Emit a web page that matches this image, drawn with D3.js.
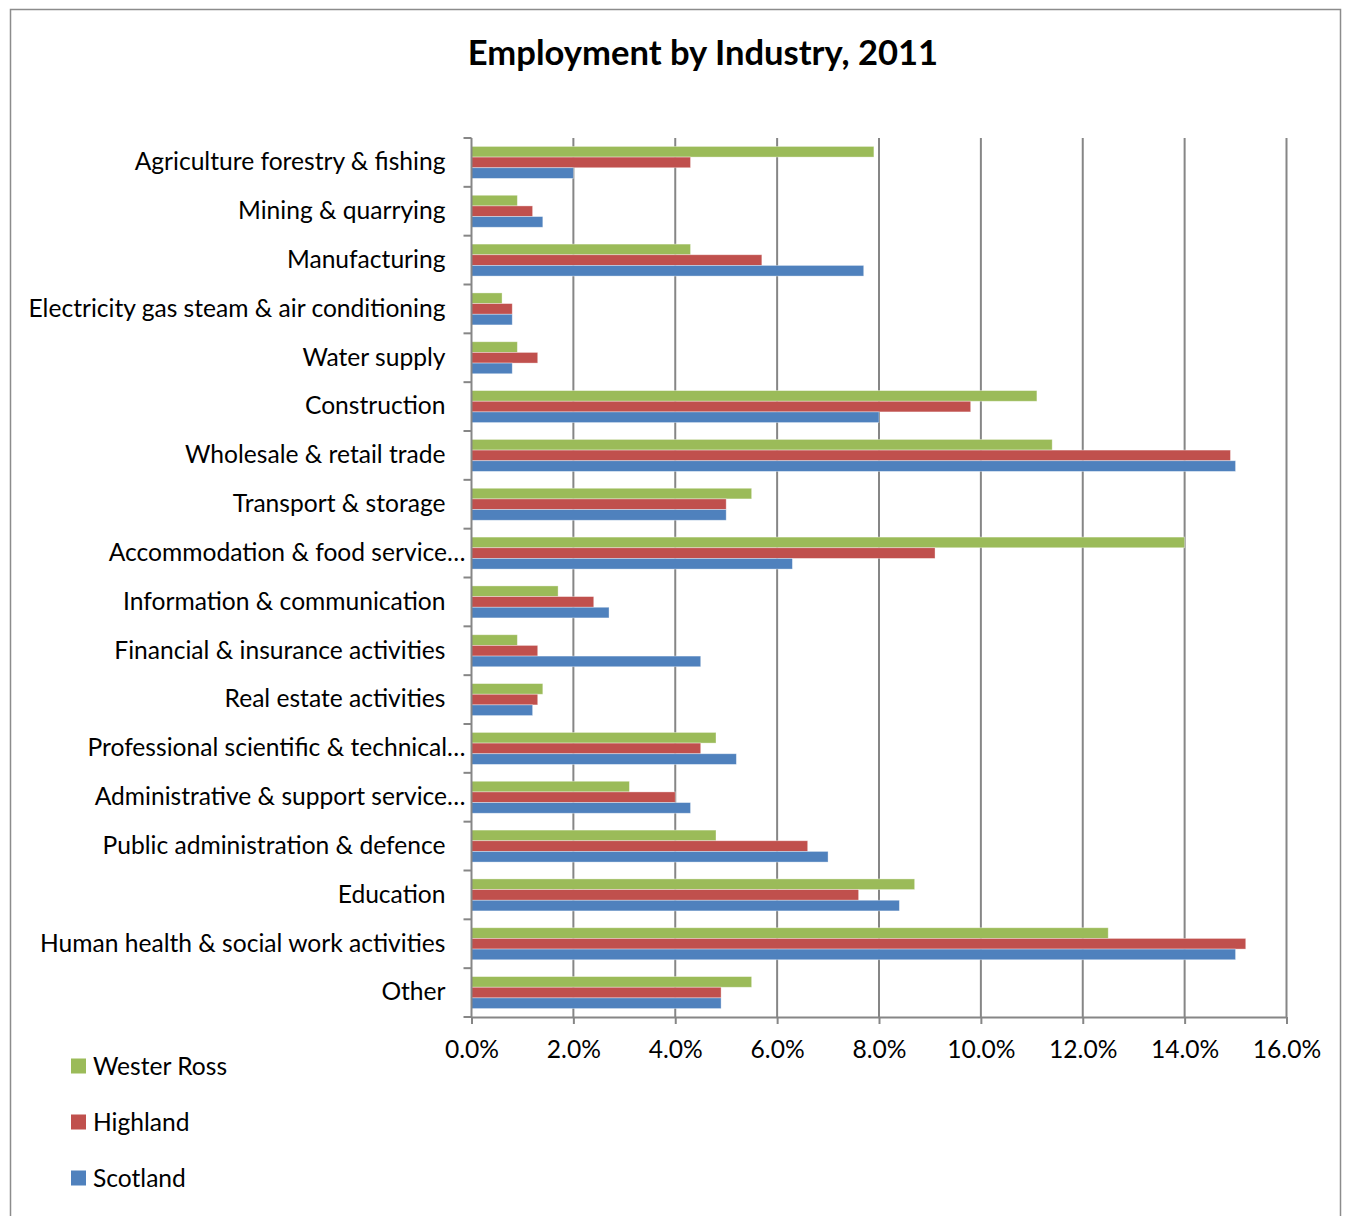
<!DOCTYPE html>
<html>
<head>
<meta charset="utf-8">
<script src="https://cdn.jsdelivr.net/npm/d3@7"></script>
<style>
  html, body { margin: 0; padding: 0; background: #fff; }
  svg { display: block; }
  text { font-family: Lato, "Open Sans", sans-serif; fill: #000; }
</style>
</head>
<body>
<svg id="chart" width="1346" height="1216"></svg>
<script>
const title = "Employment by Industry, 2011";
const categories = [
  "Agriculture forestry & fishing",
  "Mining & quarrying",
  "Manufacturing",
  "Electricity gas steam & air conditioning",
  "Water supply",
  "Construction",
  "Wholesale & retail trade",
  "Transport & storage",
  "Accommodation & food service…",
  "Information & communication",
  "Financial & insurance activities",
  "Real estate activities",
  "Professional scientific & technical…",
  "Administrative & support service…",
  "Public administration & defence",
  "Education",
  "Human health & social work activities",
  "Other"
];
const seriesNames = ["Wester Ross", "Highland", "Scotland"];
const westerRoss = [7.9, 0.9, 4.3, 0.6, 0.9, 11.1, 11.4, 5.5, 14.0, 1.7, 0.9, 1.4, 4.8, 3.1, 4.8, 8.7, 12.5, 5.5];
const highland   = [4.3, 1.2, 5.7, 0.8, 1.3, 9.8, 14.9, 5.0, 9.1, 2.4, 1.3, 1.3, 4.5, 4.0, 6.6, 7.6, 15.2, 4.9];
const scotland   = [2.0, 1.4, 7.7, 0.8, 0.8, 8.0, 15.0, 5.0, 6.3, 2.7, 4.5, 1.2, 5.2, 4.3, 7.0, 8.4, 15.0, 4.9];
const xTicks = [0, 2, 4, 6, 8, 10, 12, 14, 16];
const colors = ["#9BBB59", "#C0504D", "#4F81BD"];

const seriesValues = [westerRoss, highland, scotland];
const FS = "24.6px";

const svg = d3.select("#chart");

// outer frame
svg.append("rect")
  .attr("x", 10.5).attr("y", 9.5)
  .attr("width", 1330).attr("height", 1220)
  .attr("fill", "#fff").attr("stroke", "#8c8c8c").attr("stroke-width", 1.5);

const plot = { left: 471.5, right: 1286.5, top: 138, bottom: 1017 };

const x = d3.scaleLinear().domain([0, 16]).range([plot.left, plot.right]);
const y = d3.scaleBand().domain(categories).range([plot.top, plot.bottom]).paddingInner(0).paddingOuter(0);
const ySub = d3.scaleBand().domain(seriesNames).range([0, y.bandwidth()]).paddingInner(0).paddingOuter(0.79);

// title
svg.append("text")
  .attr("x", 703).attr("y", 65)
  .attr("text-anchor", "middle")
  .style("font-size", "34.6px").style("font-weight", "bold")
  .text(title);

// gridlines
svg.append("g").selectAll("line")
  .data(xTicks.slice(1))
  .join("line")
  .attr("x1", d => x(d)).attr("x2", d => x(d))
  .attr("y1", plot.top).attr("y2", plot.bottom)
  .attr("stroke", "#868686").attr("stroke-width", 2);

// bars
const rows = categories.map((c, i) => ({ c, vals: seriesValues.map((s, j) => ({ name: seriesNames[j], v: s[i], color: colors[j] })) }));
const gRows = svg.append("g").selectAll("g")
  .data(rows)
  .join("g")
  .attr("transform", d => `translate(0,${y(d.c)})`);
gRows.selectAll("rect")
  .data(d => d.vals)
  .join("rect")
  .attr("x", x(0))
  .attr("y", d => ySub(d.name))
  .attr("width", d => x(d.v) - x(0))
  .attr("height", ySub.bandwidth())
  .attr("fill", d => d.color)
  .attr("stroke", "rgba(255,255,255,0.45)")
  .attr("stroke-width", 0.8);

// x axis
const xAxis = d3.axisBottom(x).tickValues(xTicks).tickSize(7).tickSizeOuter(0)
  .tickFormat(d => d.toFixed(1) + "%");
const gx = svg.append("g").attr("transform", `translate(0,${plot.bottom})`).call(xAxis);
gx.select(".domain").attr("stroke", "#868686").attr("stroke-width", 2);
gx.selectAll(".tick line").attr("stroke", "#868686").attr("stroke-width", 2);
gx.selectAll(".tick text")
  .attr("y", 24)
  .style("font-size", FS)
  .style("font-family", "Lato, 'Open Sans', sans-serif")
  .attr("fill", "#000");

// y axis
const yAxis = d3.axisLeft(y).tickSize(0).tickPadding(26);
const gy = svg.append("g").attr("transform", `translate(${plot.left},0)`).call(yAxis);
gy.select(".domain").remove();
gy.selectAll(".tick text")
  .style("font-size", FS)
  .style("font-family", "Lato, 'Open Sans', sans-serif")
  .attr("fill", "#000");
gy.selectAll(".tick text")
  .filter(d => d.endsWith("…"))
  .attr("text-anchor", "start")
  .each(function() {
    const w = this.getComputedTextLength();
    d3.select(this).attr("x", -6 - w);
  });

// y axis line and boundary ticks
const boundaries = categories.map(c => y(c)).concat([plot.bottom]);
svg.append("line")
  .attr("x1", plot.left).attr("x2", plot.left)
  .attr("y1", plot.top).attr("y2", plot.bottom)
  .attr("stroke", "#868686").attr("stroke-width", 2);
svg.append("g").selectAll("line")
  .data(boundaries)
  .join("line")
  .attr("x1", plot.left - 8).attr("x2", plot.left)
  .attr("y1", d => d).attr("y2", d => d)
  .attr("stroke", "#868686").attr("stroke-width", 2);

// legend
const legend = svg.append("g");
seriesNames.forEach((name, i) => {
  const cy = 1066 + i * 56;
  legend.append("rect")
    .attr("x", 71).attr("y", cy - 7.5)
    .attr("width", 15).attr("height", 15)
    .attr("fill", colors[i]);
  legend.append("text")
    .attr("x", 93).attr("y", cy + 9)
    .style("font-size", FS)
    .text(name);
});
</script>
</body>
</html>
